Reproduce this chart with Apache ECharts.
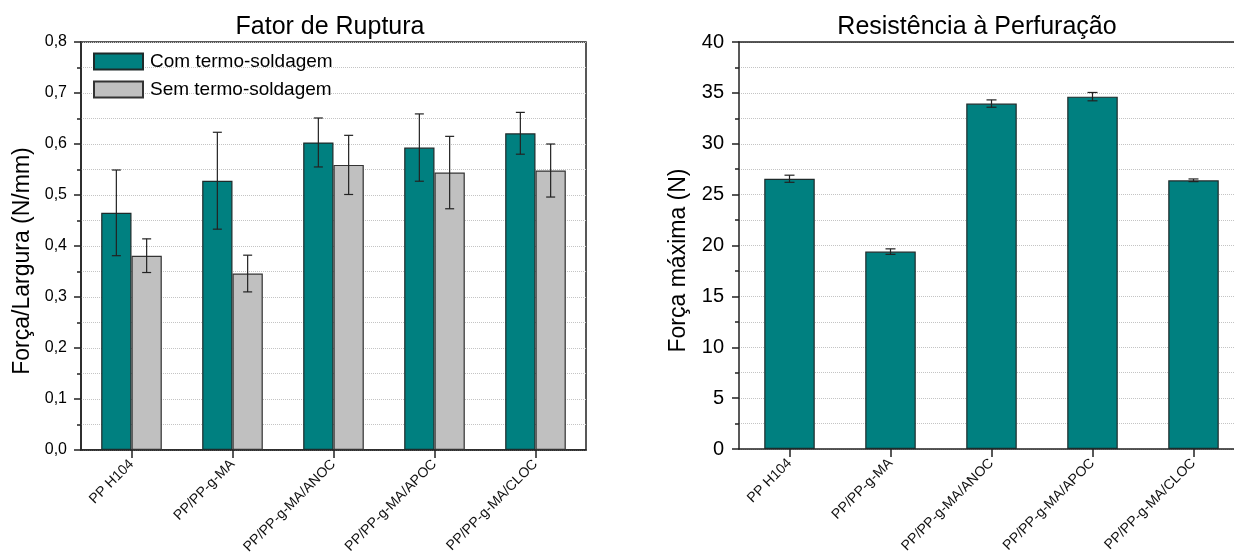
<!DOCTYPE html>
<html><head><meta charset="utf-8">
<script src="https://cdn.jsdelivr.net/npm/echarts@6/dist/echarts.min.js"></script>
<style>html,body{margin:0;padding:0;background:#fff}#c{width:1234px;height:556px}</style>
</head><body><div id="c"></div>
<script>
const categories = ['PP H104','PP/PP-g-MA','PP/PP-g-MA/ANOC','PP/PP-g-MA/APOC','PP/PP-g-MA/CLOC'];
const comValues = [0.465, 0.528, 0.603, 0.593, 0.621];
const comErrors = [0.084, 0.095, 0.048, 0.066, 0.041];
const semValues = [0.381, 0.346, 0.559, 0.544, 0.548];
const semErrors = [0.033, 0.036, 0.058, 0.071, 0.052];
const perfValues = [26.56, 19.40, 33.95, 34.63, 26.41];
const perfErrors = [0.35, 0.27, 0.36, 0.41, 0.13];

const FONT = 'Liberation Sans, Arial, Helvetica, sans-serif';
const TEAL = '#008080', GRAY = '#c0c0c0', EDGE = '#1e2a2a';

function errData(vals, errs){ return vals.map((v,i)=>[i, v-errs[i], v+errs[i]]); }
function errRender(offsetFrac, cap){
  return function(params, api){
    const i = api.value(0);
    const lo = api.coord([i, api.value(1)]);
    const hi = api.coord([i, api.value(2)]);
    const band = api.size([1,0])[0];
    const x = lo[0] + offsetFrac*band;
    const st = {stroke:'#222', lineWidth:1.2};
    return {type:'group', children:[
      {type:'line', shape:{x1:x,y1:lo[1],x2:x,y2:hi[1]}, style:st},
      {type:'line', shape:{x1:x-cap/2,y1:lo[1],x2:x+cap/2,y2:lo[1]}, style:st},
      {type:'line', shape:{x1:x-cap/2,y1:hi[1],x2:x+cap/2,y2:hi[1]}, style:st}
    ]};
  };
}
const split = {show:true, lineStyle:{color:'#c4c4c4', type:'dotted', width:1}};
const axisLine = {show:true, lineStyle:{color:'#222', width:1.5}};
const xLabel = {rotate:45, fontSize:14, color:'#111', fontFamily:FONT, margin:12, interval:0};

const option = {
  animation:false,
  textStyle:{fontFamily:FONT},
  title:[
    {text:'Fator de Ruptura', left:325, top:10, textAlign:'center', textStyle:{fontFamily:FONT, fontSize:25, fontWeight:'normal', color:'#000'}},
    {text:'Resistência à Perfuração', left:972, top:10, textAlign:'center', textStyle:{fontFamily:FONT, fontSize:25, fontWeight:'normal', color:'#000'}}
  ],
  legend:{
    left:93, top:52, orient:'vertical', itemWidth:49, itemHeight:16, itemGap:9, padding:0,
    icon:'rect', data:['Com termo-soldagem','Sem termo-soldagem'],
    textStyle:{fontFamily:FONT, fontSize:19, color:'#000', padding:[0,0,0,2]}
  },
  grid:[
    {left:81, top:42, right:648, bottom:106, show:true, borderColor:'#222', borderWidth:1.5, containLabel:false, outerBoundsMode:'none'},
    {left:739, top:42, width:505, bottom:107, show:false, containLabel:false, outerBoundsMode:'none'}
  ],
  xAxis:[
    {type:'category', gridIndex:0, data:categories, axisLine:axisLine,
     axisTick:{show:true, alignWithLabel:true, length:8, lineStyle:{color:'#222', width:1.5}},
     axisLabel:xLabel},
    {type:'category', gridIndex:1, data:categories, axisLine:axisLine,
     axisTick:{show:true, alignWithLabel:true, length:8, lineStyle:{color:'#222', width:1.5}},
     axisLabel:xLabel},
    {type:'category', gridIndex:1, position:'top', data:categories, axisLine:axisLine,
     axisTick:{show:false}, axisLabel:{show:false}}
  ],
  yAxis:[
    {type:'value', gridIndex:0, min:0, max:0.8, interval:0.1,
     name:'Força/Largura (N/mm)', nameLocation:'middle', nameGap:47,
     nameTextStyle:{fontFamily:FONT, fontSize:23, color:'#000', padding:[0,30,0,0]},
     axisLine:axisLine, axisTick:{show:true, length:7, lineStyle:{color:'#222', width:1.5}},
     minorTick:{show:true, splitNumber:2, length:4, lineStyle:{color:'#222', width:1.5}},
     splitLine:split, minorSplitLine:split,
     axisLabel:{fontSize:16, color:'#000', fontFamily:FONT, margin:14, formatter:v=>v.toFixed(1).replace('.',',')}},
    {type:'value', gridIndex:1, min:0, max:40, interval:5,
     name:'Força máxima (N)', nameLocation:'middle', nameGap:49,
     nameTextStyle:{fontFamily:FONT, fontSize:23, color:'#000', padding:[0,30,0,0]},
     axisLine:axisLine, axisTick:{show:true, length:7, lineStyle:{color:'#222', width:1.5}},
     minorTick:{show:true, splitNumber:2, length:4, lineStyle:{color:'#222', width:1.5}},
     splitLine:split, minorSplitLine:split,
     axisLabel:{fontSize:20, color:'#000', fontFamily:FONT, margin:15}}
  ],
  series:[
    {name:'Com termo-soldagem', type:'bar', xAxisIndex:0, yAxisIndex:0, data:comValues,
     barWidth:'30%', barGap:'0%', itemStyle:{color:TEAL, borderColor:EDGE, borderWidth:1.2}},
    {name:'Sem termo-soldagem', type:'bar', xAxisIndex:0, yAxisIndex:0, data:semValues,
     barWidth:'30%', barGap:'0%', itemStyle:{color:GRAY, borderColor:'#333', borderWidth:1.2}},
    {type:'custom', xAxisIndex:0, yAxisIndex:0, data:errData(comValues, comErrors),
     renderItem:errRender(-0.15, 9), encode:{x:0, y:[1,2]}, z:5},
    {type:'custom', xAxisIndex:0, yAxisIndex:0, data:errData(semValues, semErrors),
     renderItem:errRender(0.15, 9), encode:{x:0, y:[1,2]}, z:5},
    {name:'perf', type:'bar', xAxisIndex:1, yAxisIndex:1, data:perfValues,
     barWidth:'50%', itemStyle:{color:TEAL, borderColor:EDGE, borderWidth:1.2}},
    {type:'custom', xAxisIndex:1, yAxisIndex:1, data:errData(perfValues, perfErrors),
     renderItem:errRender(0, 10), encode:{x:0, y:[1,2]}, z:5}
  ]
};
const chart = echarts.init(document.getElementById('c'), null, {renderer:'canvas'});
chart.setOption(option);
</script></body></html>
